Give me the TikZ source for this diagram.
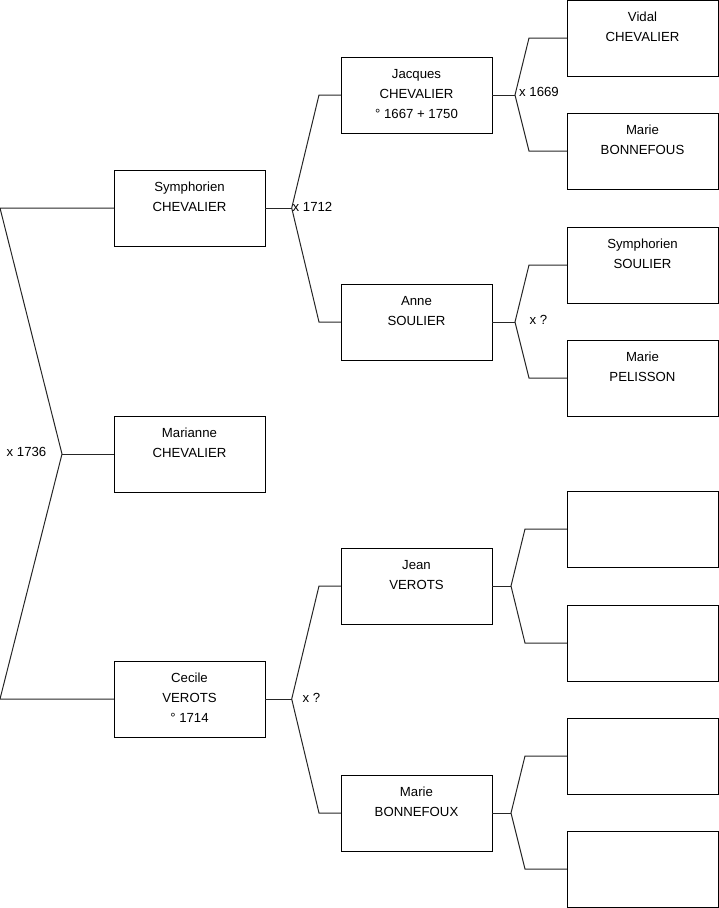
\documentclass[tikz,border=0pt]{standalone}
\usepackage{fontspec}
\setmainfont{Liberation Sans}
\usetikzlibrary{calc}
\newcommand{\boxtxt}[1]{\parbox[c][76pt][t]{151pt}{\centering\fontsize{13.2pt}{20pt}\selectfont\vspace*{7.5pt}\strut #1\par}}
\tikzset{
  person/.style={draw=black, line width=1pt, inner sep=0pt, outer sep=0pt, anchor=north west},
  link/.style={draw=black!85, line width=1pt},
  marr/.style={font=\fontsize{13.2pt}{15pt}\selectfont, inner sep=0pt}
}
\begin{document}
\begin{tikzpicture}[x=1pt,y=-1pt]
\useasboundingbox (0,0) rectangle (719,908);
% generation 1
\node[person] (A) at (114,170) {\boxtxt{Symphorien\\CHEVALIER}};
\node[person] (M) at (114,416) {\boxtxt{Marianne\\CHEVALIER}};
\node[person] (C) at (114,661) {\boxtxt{Cecile\\VEROTS\\° 1714}};
% generation 2
\node[person] (Ja) at (341,57) {\boxtxt{Jacques\\CHEVALIER\\° 1667 + 1750}};
\node[person] (An) at (341,284) {\boxtxt{Anne\\SOULIER}};
\node[person] (Je) at (341,548) {\boxtxt{Jean\\VEROTS}};
\node[person] (Mb) at (341,775) {\boxtxt{Marie\\BONNEFOUX}};
% generation 3
\node[person] (Vi) at (567,0) {\boxtxt{Vidal\\CHEVALIER}};
\node[person] (Mf) at (567,113) {\boxtxt{Marie\\BONNEFOUS}};
\node[person] (Ss) at (567,227) {\boxtxt{Symphorien\\SOULIER}};
\node[person] (Mp) at (567,340) {\boxtxt{Marie\\PELISSON}};
\node[person] (E1) at (567,491) {\boxtxt{}};
\node[person] (E2) at (567,605) {\boxtxt{}};
\node[person] (E3) at (567,718) {\boxtxt{}};
\node[person] (E4) at (567,831) {\boxtxt{}};
% left bracket
\coordinate (L0) at (62,454);
\coordinate (La) at (0,208);
\coordinate (Lb) at (0,699);
\draw[link] (A.west) -- (La) -- (L0) -- (Lb) -- (C.west);
\draw[link] (L0) -- (M.west);
\node[marr] (m1) at (26.5,452) {x 1736};
% Symphorien
\coordinate (J1) at ($(A.east)+(26.7,0)$);
\draw[link] (A.east) -- (J1);
\draw[link] (Ja.west) -- ++(-22,0) -- (J1) -- ($(An.west)+(-22,0)$) -- (An.west);
\node[marr, anchor=west] (m2) at (292.5,207) {x 1712};
% Cecile
\coordinate (J2) at ($(C.east)+(26.7,0)$);
\draw[link] (C.east) -- (J2);
\draw[link] (Je.west) -- ++(-22,0) -- (J2) -- ($(Mb.west)+(-22,0)$) -- (Mb.west);
\node[marr] (m3) at (311.5,698) {x ?};
% Jacques
\coordinate (J3) at ($(Ja.east)+(23,0)$);
\draw[link] (Ja.east) -- (J3);
\draw[link] (Vi.west) -- ++(-38,0) -- (J3) -- ($(Mf.west)+(-38,0)$) -- (Mf.west);
\node[marr, anchor=west] (m4) at (519,92) {x 1669};
% Anne
\coordinate (J4) at ($(An.east)+(23,0)$);
\draw[link] (An.east) -- (J4);
\draw[link] (Ss.west) -- ++(-38,0) -- (J4) -- ($(Mp.west)+(-38,0)$) -- (Mp.west);
\node[marr] (m5) at (538.5,320) {x ?};
% Jean
\coordinate (J5) at ($(Je.east)+(19,0)$);
\draw[link] (Je.east) -- (J5);
\draw[link] (E1.west) -- ++(-42,0) -- (J5) -- ($(E2.west)+(-42,0)$) -- (E2.west);
% Marie Bonnefoux
\coordinate (J6) at ($(Mb.east)+(19,0)$);
\draw[link] (Mb.east) -- (J6);
\draw[link] (E3.west) -- ++(-42,0) -- (J6) -- ($(E4.west)+(-42,0)$) -- (E4.west);
\end{tikzpicture}
\end{document}
